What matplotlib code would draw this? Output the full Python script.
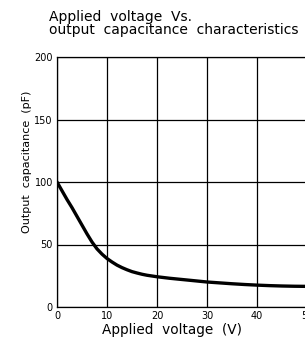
import matplotlib
matplotlib.use("Agg")
import matplotlib.pyplot as plt

voltage = [0, 1, 2, 3, 4, 5, 6, 7, 8, 9, 10, 11, 12, 13, 14, 15, 16, 17, 18, 19, 20,
           22.5, 25, 27.5, 30, 32.5, 35, 37.5, 40, 42.5, 45, 47.5, 50]
capacitance = [100, 93, 86, 79.5, 72.5, 65.5, 58.5, 52, 46.5, 42.3, 38.8, 36, 33.5, 31.5,
               29.8, 28.3, 27.2, 26.2, 25.4, 24.8, 24.2, 23, 22, 21, 20, 19.3, 18.6, 18,
               17.5, 17.1, 16.8, 16.6, 16.5]
xticks = [0, 10, 20, 30, 40, 50]
yticks = [0, 50, 100, 150, 200]

W, H = 305, 339
fig = plt.figure(figsize=(W / 100, H / 100), dpi=100)
ax = fig.add_axes([57 / W, 1 - 307 / H, 250 / W, 250 / H])
ax.plot(voltage, capacitance, color="black", lw=2.4, solid_capstyle="round",
        solid_joinstyle="round", zorder=3)
ax.set_xlim(0, 50)
ax.set_ylim(0, 200)
ax.set_xticks(xticks)
ax.set_yticks(yticks)
ax.grid(True, color="black", lw=0.9)
for s in ax.spines.values():
    s.set_color("black")
    s.set_linewidth(0.9)
ax.tick_params(length=0, pad=3)
ax.set_xticklabels([str(v) for v in xticks], fontsize=7)
ax.set_yticklabels([str(v) for v in yticks], fontsize=7)

fig.text(49 / W, 1 - 10 / H, "Applied  voltage  Vs.\noutput  capacitance  characteristics",
         ha="left", va="top", fontsize=10, linespacing=0.95)
fig.text(172 / W, 1 - 330 / H, "Applied  voltage  (V)", ha="center", va="center", fontsize=9.8)
fig.text(27 / W, 1 - 162 / H, "Output  capacitance  (pF)", ha="center", va="center",
         rotation=90, fontsize=8)
fig.savefig("out.png", dpi=100)
